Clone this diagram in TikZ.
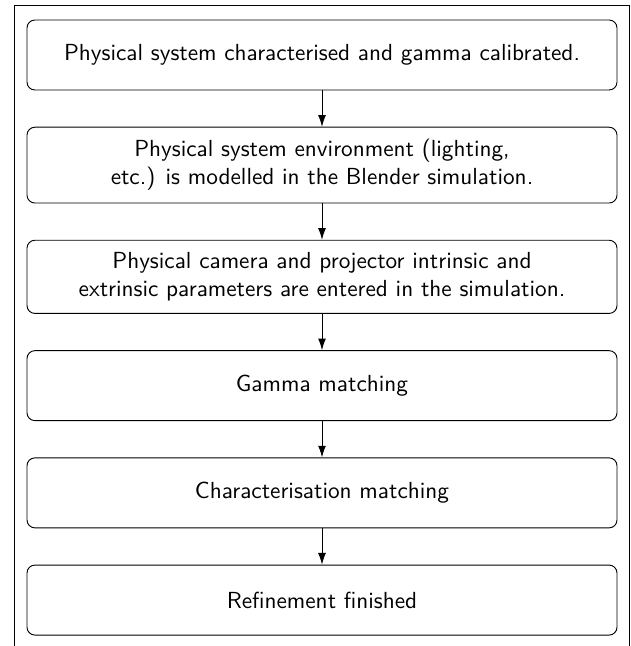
\documentclass[tikz,border=0pt]{standalone}
\usepackage{tikz}
\usetikzlibrary{positioning,arrows.meta}

\begin{document}
\begin{tikzpicture}[x=0.43pt,y=0.43pt,
    stepbox/.style={draw, rectangle, rounded corners=3.4pt, align=center,
        minimum width=253.7pt, minimum height=30.1pt, inner ysep=5.3pt, font=\sffamily},
    flow/.style={-{Latex[length=5pt,width=3.4pt]}},
    node distance=15.6pt]
        \useasboundingbox (0,0) rectangle (631,646);
        % Frame
        \draw (14,0) -- (14,641) -- (629,641) -- (629,0);

        % Steps
        \node[stepbox] (calib) at (322,591) {Physical system characterised and gamma calibrated.};
        \node[stepbox, below=of calib] (envir) {Physical system environment (lighting,\\etc.) is modelled in the Blender simulation.};
        \node[stepbox, below=of envir] (params) {Physical camera and projector intrinsic and\\extrinsic parameters are entered in the simulation.};
        \node[stepbox, below=of params] (gamma) {Gamma matching};
        \node[stepbox, below=of gamma] (charac) {Characterisation matching};
        \node[stepbox, below=of charac] (done) {Refinement finished};

        \draw[flow] (calib) -- (envir);
        \draw[flow] (envir) -- (params);
        \draw[flow] (params) -- (gamma);
        \draw[flow] (gamma) -- (charac);
        \draw[flow] (charac) -- (done);
    \end{tikzpicture}
\end{document}
